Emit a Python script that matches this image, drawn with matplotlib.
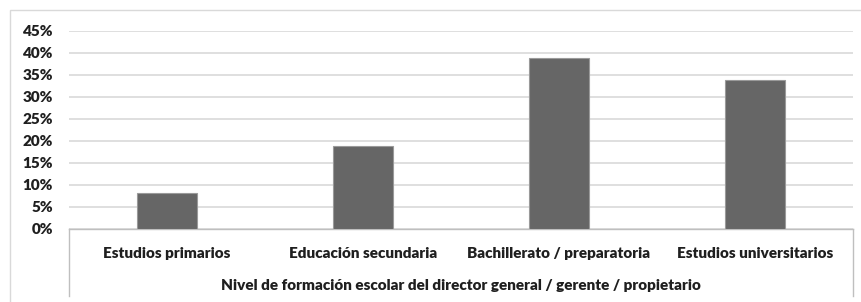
import matplotlib.pyplot as plt
from matplotlib.patches import Rectangle
from matplotlib.lines import Line2D

# data
categories = ['Estudios primarios', 'Educación secundaria',
              'Bachillerato / preparatoria', 'Estudios universitarios']
values = [8.2, 18.9, 38.9, 33.9]
yticks = [0, 5, 10, 15, 20, 25, 30, 35, 40, 45]
xlabel = 'Nivel de formación escolar del director general / gerente / propietario'

W, H = 861, 302
plt.rcParams['font.family'] = ['Lato', 'DejaVu Sans']
text_color = '#1f1f1f'
fs = 11

fig = plt.figure(figsize=(W / 100, H / 100), dpi=100)

# outer chart frame (cut off on right and bottom)
fig.patches.append(Rectangle((10 / W, -0.1), 1.2, (H - 10) / H + 0.1,
                             transform=fig.transFigure, fill=False,
                             edgecolor='#d9d9d9', linewidth=1))

ax = fig.add_axes([69 / W, 1 - 229 / H, (853 - 69) / W, (229 - 31) / H])
x = range(len(categories))
ax.bar(x, values, width=0.31, color='#666666', edgecolor='#9a9a9a',
       linewidth=0.8, zorder=3)
ax.set_xlim(-0.5, len(categories) - 0.5)
ax.set_ylim(0, 45)
ax.set_yticks(yticks)
ax.set_yticklabels([f'{t}%' for t in yticks], fontsize=fs,
                   fontweight='heavy', color=text_color)
ax.yaxis.grid(True, color='#d9d9d9', linewidth=1.2, zorder=0)
ax.tick_params(axis='y', length=0, pad=11.5)
ax.set_xticks(list(x))
ax.set_xticklabels(categories, fontsize=fs, fontweight='heavy', color=text_color)
ax.tick_params(axis='x', length=0, pad=13)
for s in ['top', 'right', 'left']:
    ax.spines[s].set_visible(False)
ax.spines['bottom'].set_color('#bfbfbf')
ax.spines['bottom'].set_linewidth(1)

# category axis box lines going down
for xf in (69 / W, 853 / W):
    fig.lines.append(Line2D([xf, xf], [1 - 229 / H, 1 - 296 / H],
                            transform=fig.transFigure, color='#bfbfbf', linewidth=1))

fig.text((69 + 853) / 2 / W, 1 - 285 / H, xlabel, ha='center', va='center',
         fontsize=fs, fontweight='heavy', color=text_color)

fig.savefig('out.png', dpi=100)
